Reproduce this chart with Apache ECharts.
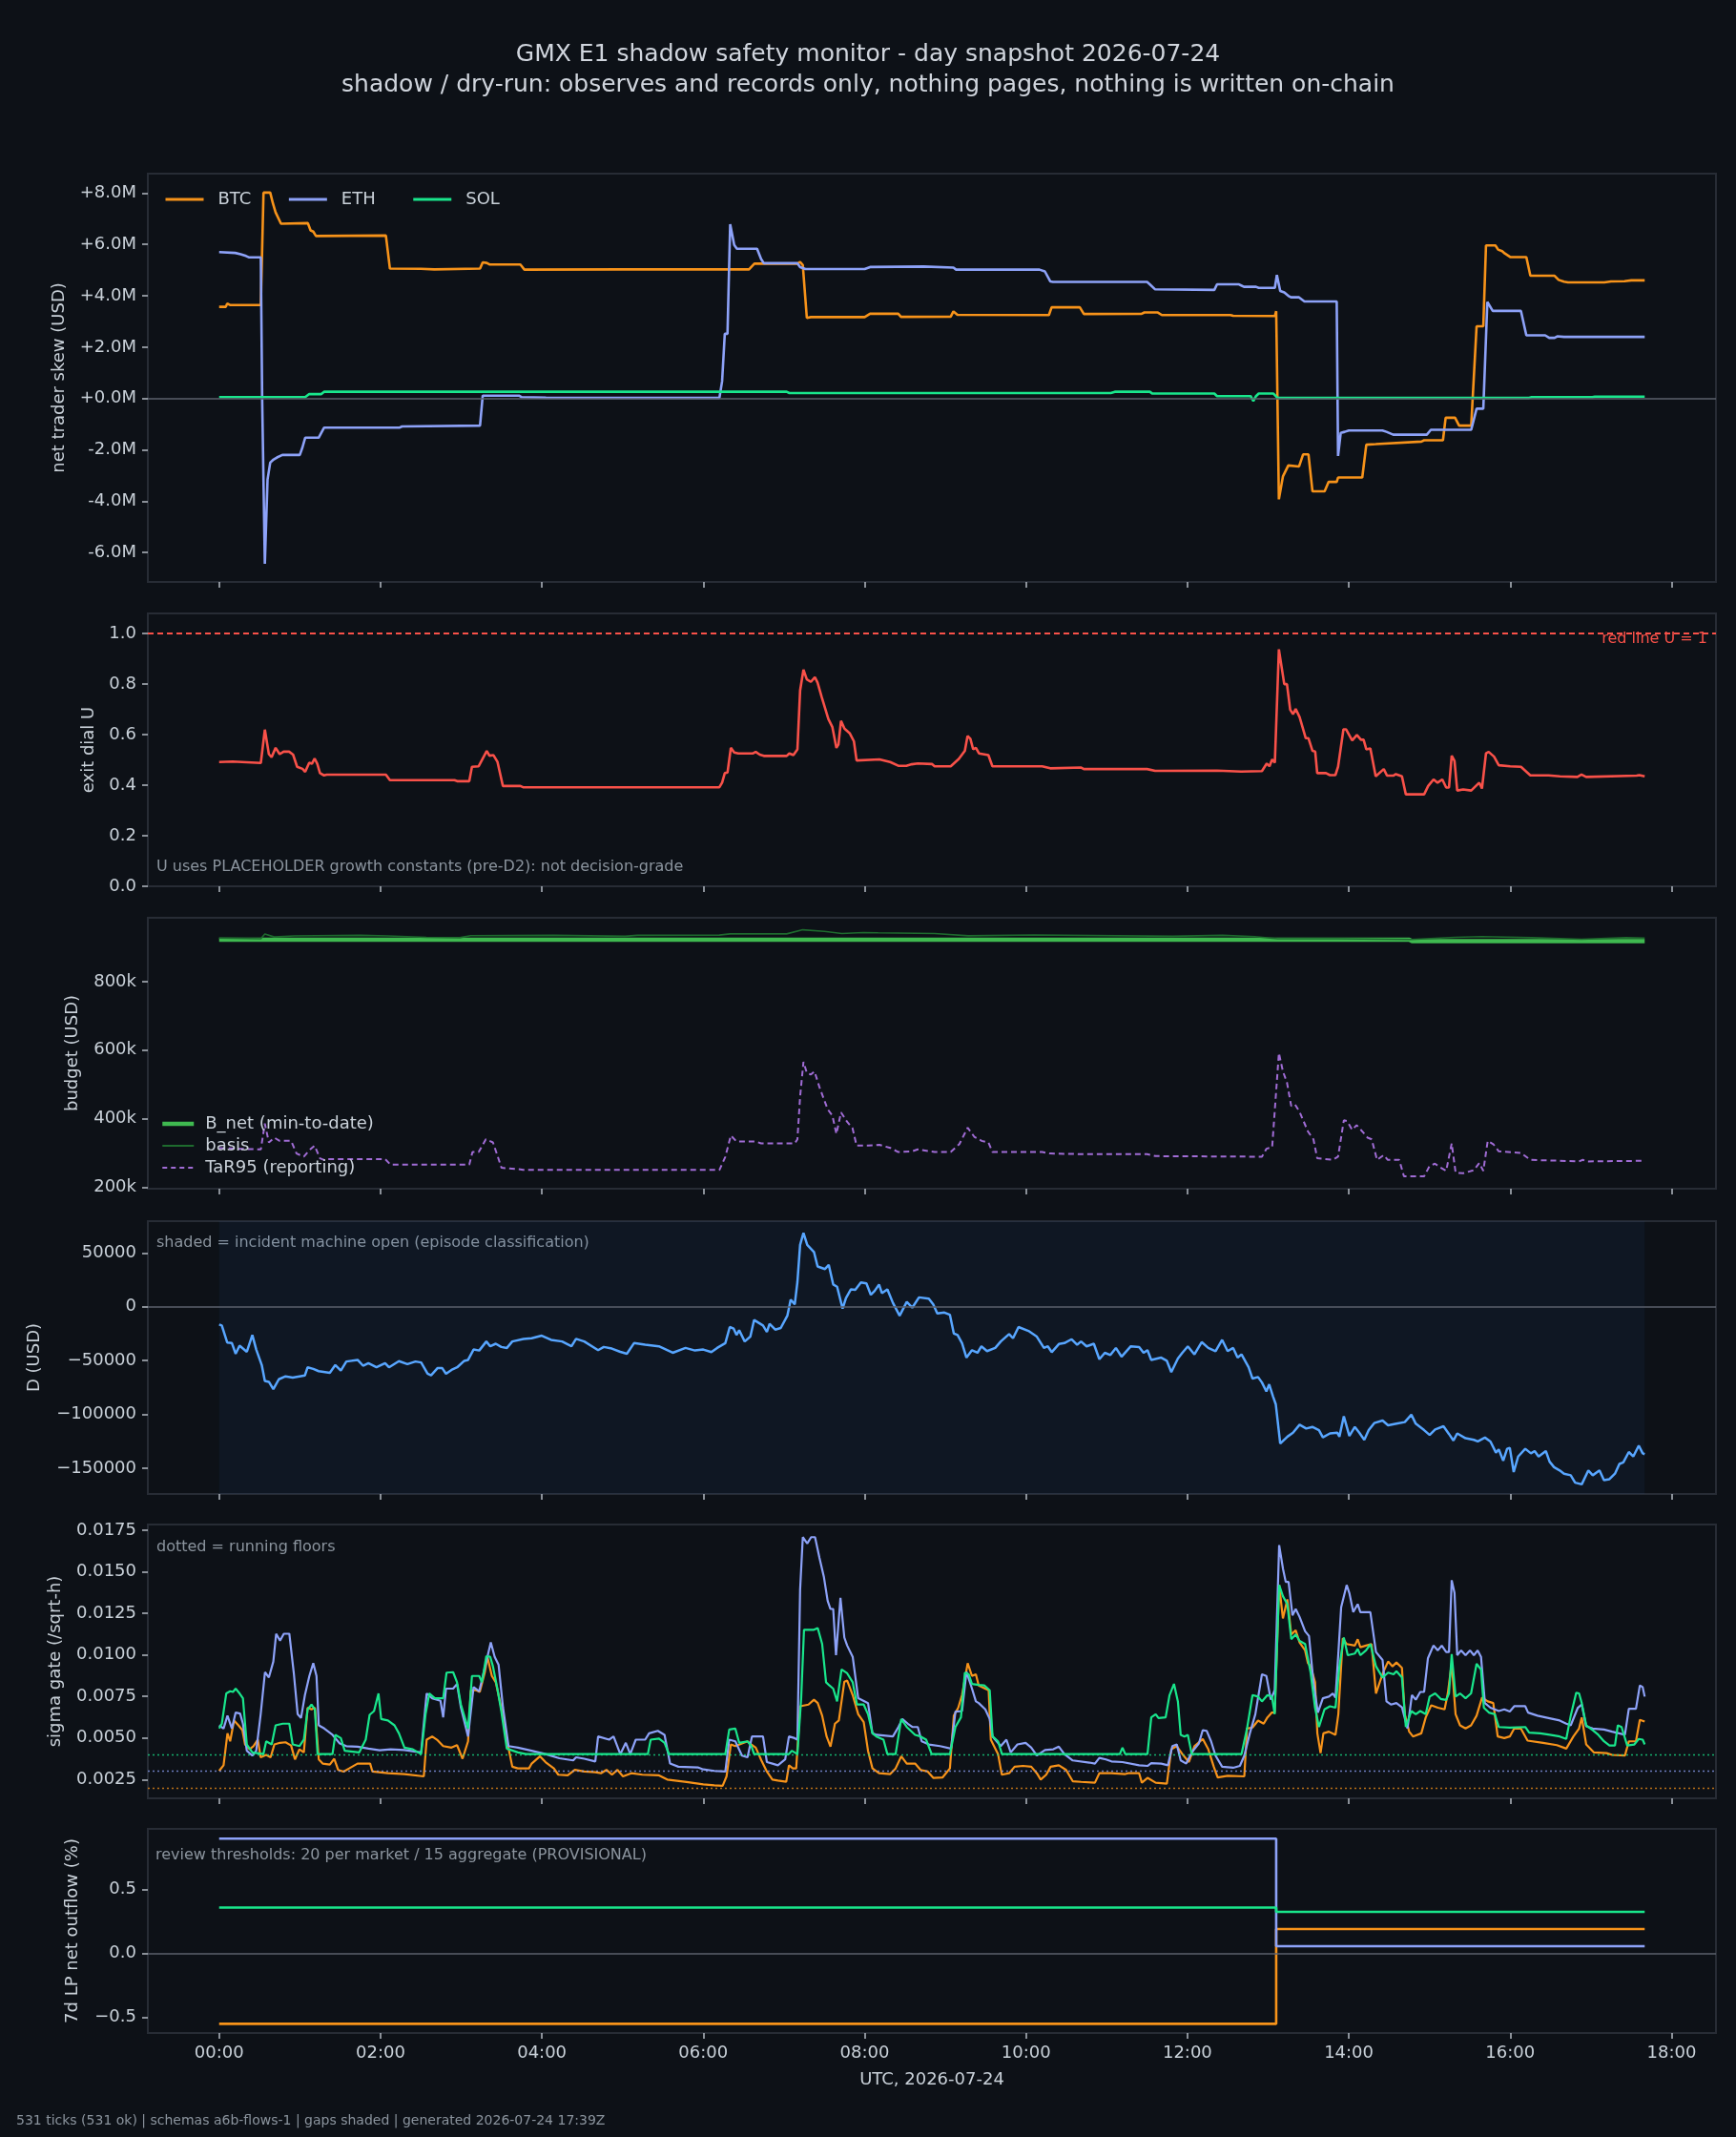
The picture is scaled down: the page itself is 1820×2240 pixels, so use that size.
<!DOCTYPE html>
<html>
<head>
<meta charset="utf-8">
<script src="https://cdn.jsdelivr.net/npm/echarts@6/dist/echarts.min.js"></script>
<style>
  html, body { margin: 0; padding: 0; background: #0d1117; }
  #chart { width: 1820px; height: 2240px; }
</style>
</head>
<body>
<div id="chart"></div>
<script>
// x values are minutes after 00:00 UTC (one tick every 2 minutes, 531 ticks)
var xTicks = [0, 120, 240, 360, 480, 600, 720, 840, 960, 1080]

// panel 1: net trader skew, $M
var skewBtc = [[0,3.57],[5,3.57],[6,3.70],[8,3.64],[31,3.64],[33,8.02],[38,8.02],[40,7.6],[42,7.25],[46,6.81],[66,6.83],[68,6.55],[70,6.50],[72,6.33],[124,6.35],[127,5.06],[150,5.05],[160,5.03],[194,5.06],[196,5.30],[199,5.28],[201,5.22],[224,5.22],[227,5.02],[300,5.03],[394,5.03],[398,5.25],[430,5.25],[432,5.32],[434,5.2],[437,3.14],[440,3.17],[480,3.17],[484,3.30],[505,3.30],[507,3.18],[544,3.19],[546,3.39],[549,3.26],[617,3.25],[619,3.55],[640,3.55],[643,3.29],[686,3.30],[688,3.35],[698,3.35],[701,3.25],[752,3.25],[754,3.22],[785,3.21],[786,3.40],[788,-3.93],[791,-3.04],[795,-2.61],[803,-2.65],[806,-2.18],[810,-2.18],[813,-3.62],[822,-3.62],[825,-3.25],[831,-3.25],[832,-3.08],[850,-3.08],[853,-1.80],[860,-1.78],[894,-1.68],[896,-1.63],[910,-1.63],[912,-0.75],[919,-0.75],[922,-1.06],[931,-1.06],[935,2.81],[940,2.81],[942,5.96],[949,5.96],[951,5.80],[954,5.74],[956,5.65],[960,5.51],[972,5.51],[975,4.78],[993,4.78],[996,4.62],[1000,4.55],[1003,4.52],[1030,4.52],[1035,4.56],[1045,4.57],[1050,4.60],[1060,4.60]]
var skewEth = [[0,5.70],[12,5.67],[16,5.62],[20,5.55],[22,5.50],[31,5.50],[32,0],[34,-6.44],[36,-3.16],[38,-2.5],[40,-2.40],[43,-2.30],[47,-2.20],[60,-2.20],[62,-1.9],[64,-1.53],[74,-1.53],[78,-1.14],[134,-1.14],[136,-1.09],[194,-1.06],[196,0.11],[223,0.11],[225,0.05],[243,0.03],[372,0.02],[374,0.67],[376,2.52],[378,2.52],[380,6.79],[383,5.98],[385,5.83],[400,5.83],[403,5.43],[405,5.27],[430,5.27],[432,5.12],[436,5.04],[480,5.04],[484,5.12],[524,5.14],[546,5.10],[548,5.02],[610,5.02],[614,4.95],[618,4.56],[620,4.54],[690,4.54],[692,4.45],[696,4.25],[740,4.23],[742,4.45],[758,4.45],[760,4.40],[762,4.35],[771,4.35],[773,4.31],[785,4.31],[786.5,4.81],[789,4.19],[792,4.13],[795,4.0],[797,3.94],[803,3.94],[807,3.78],[831,3.78],[832,-2.24],[834,-1.34],[837,-1.30],[840,-1.25],[865,-1.25],[868,-1.30],[873,-1.41],[898,-1.41],[901,-1.22],[931,-1.22],[935,-0.40],[940,-0.40],[943,3.76],[947,3.41],[968,3.41],[972,2.46],[986,2.46],[989,2.36],[993,2.36],[995,2.42],[1000,2.40],[1060,2.40]]
var skewSol = [[0,0.05],[64,0.05],[67,0.17],[76,0.17],[78,0.26],[422,0.26],[424,0.21],[663,0.21],[666,0.26],[692,0.26],[694,0.19],[740,0.19],[742,0.09],[767,0.09],[769,-0.10],[771,0.09],[773,0.19],[784,0.19],[787,0.02],[974,0.02],[976,0.05],[1021,0.05],[1023,0.07],[1060,0.07]]

// panel 2: exit dial U
var dialU = [[0,0.492],[10,0.494],[31,0.488],[34,0.62],[37,0.523],[39,0.511],[42,0.548],[45,0.523],[48,0.533],[52,0.533],[55,0.521],[58,0.473],[62,0.465],[64,0.453],[67,0.489],[69,0.485],[71,0.506],[73,0.485],[75,0.448],[78,0.439],[80,0.442],[124,0.442],[127,0.420],[175,0.420],[177,0.416],[186,0.416],[188,0.473],[193,0.475],[199,0.536],[201,0.517],[204,0.519],[207,0.492],[211,0.397],[224,0.397],[226,0.392],[372,0.392],[374,0.410],[376,0.448],[378,0.450],[380.5,0.548],[383,0.530],[386,0.526],[397,0.526],[399,0.532],[402,0.521],[405,0.516],[422,0.516],[424,0.526],[427,0.519],[430,0.542],[432,0.775],[434.5,0.857],[437,0.819],[440,0.809],[443,0.828],[445,0.806],[448,0.750],[453,0.662],[456,0.630],[459,0.548],[460.5,0.561],[462.4,0.655],[465,0.624],[469,0.605],[472,0.574],[474,0.498],[491,0.502],[499,0.492],[505,0.477],[511,0.477],[515,0.483],[519.5,0.486],[530,0.484],[532,0.475],[544,0.475],[550,0.504],[554.5,0.536],[556.5,0.595],[558.6,0.584],[560.7,0.542],[562.7,0.548],[565,0.526],[572,0.519],[575,0.475],[612,0.475],[618,0.467],[641,0.470],[643,0.464],[690,0.464],[696,0.457],[742,0.458],[760,0.454],[775.4,0.456],[779,0.486],[781,0.475],[783,0.502],[785,0.489],[788,0.938],[790,0.869],[792,0.800],[794,0.800],[796.4,0.699],[798.5,0.681],[800.5,0.702],[803.4,0.670],[808,0.586],[810,0.586],[813,0.536],[815,0.533],[816.5,0.448],[823,0.448],[826,0.440],[830,0.440],[832,0.473],[836,0.621],[838,0.621],[842.5,0.577],[846,0.599],[849,0.580],[851,0.580],[853,0.542],[856,0.546],[860,0.435],[866,0.464],[868.4,0.438],[873,0.438],[875,0.444],[879.5,0.435],[882.4,0.364],[896,0.364],[899,0.397],[903,0.423],[906,0.410],[909.5,0.423],[912.4,0.391],[914.5,0.391],[916.5,0.517],[918.6,0.496],[920.6,0.379],[925,0.383],[931,0.379],[937,0.410],[939,0.387],[942,0.526],[944,0.532],[948,0.513],[951.5,0.479],[960,0.475],[968,0.473],[975,0.439],[988.5,0.439],[997,0.435],[1010,0.433],[1013,0.442],[1016.5,0.433],[1054,0.438],[1056,0.440],[1060,0.435]]

// panel 3: budget, $k
var bNet = [[0,922],[885,922],[887,918],[1060,918]]
var basis = [[0,927],[31,925],[34,939],[41,930],[56,933],[105,935],[125,933],[154,929],[179,928],[187,934],[249,935],[302,932],[311,935],[372,935.5],[380,939],[422,939],[434,951],[450,946.5],[463,940],[479,943],[490,942],[532,940],[557,933.6],[606,936],[709,932],[746,935],[770,931],[787,925],[832,925],[886,922.6],[919,929],[939,931],[976,928],[1013,923.5],[1046,928],[1060,927]]
var tar95 = [[0,314],[31,310.6],[34,386],[37,331],[41,345],[45,335.5],[53.5,335.5],[57.6,298.6],[63,289.4],[67,308],[71,321.6],[75,284.8],[78,280],[80,282],[123.5,282],[127.5,266],[186,266],[188.4,303],[193,303],[198.3,340],[203.6,331],[210,257],[224,252.5],[226,250.7],[372,250.7],[376.4,289],[380.5,351],[384.7,333.6],[399,333.6],[403,328],[428,328],[430,340],[432,464.5],[434.5,566],[437,533.6],[440,529],[442.7,538],[446.4,492],[452.5,427.6],[456,409],[459,355.7],[462.4,418.4],[467,390.8],[471,372],[474,321.6],[482.5,321.6],[491,324],[499,315],[505,303],[515.4,305],[519.5,310.6],[532,303],[544,303],[550.4,326],[556.6,374],[561.5,347.5],[567,335.5],[572,331],[575,303],[612,303],[618,298.6],[643,296.7],[690,296.7],[696.4,291],[770.5,289.4],[775.4,289.4],[778.7,312.4],[783,317],[788,591.7],[791,538],[794,505.8],[797.2,436.8],[800,441.5],[803.4,420],[809.6,363],[813.7,340],[816.5,284.8],[828,280],[832,289.4],[836.3,395.4],[838.8,393],[842.5,367.7],[845.8,381.5],[850,363],[854,344.7],[857,340],[861,280],[866,294],[869,280],[877.5,280],[881,232.2],[896,232.2],[900,261.7],[904,269],[908,258],[912.4,248],[916.5,328],[919.4,243],[925,241],[933,250],[937,271],[940,248],[943.3,335.5],[947.4,326],[951.5,305],[968,300.4],[975,280],[997,277.4],[1011,275.5],[1014,280],[1017,275.5],[1060,277.4]]

// panel 4: D, $k
var dUsd = [[0,-16.5],[2,-17.4],[6,-33.2],[9.5,-33.8],[12.3,-43.7],[15.2,-36.2],[20.6,-41.9],[24.7,-26.3],[27.6,-39.8],[31.7,-54.2],[34,-68.9],[37,-69.8],[40.3,-76.6],[44.4,-67.4],[49.4,-64.7],[54.7,-65.9],[63.8,-63.8],[65.8,-56.3],[70,-57.8],[74,-59.9],[82.3,-61.4],[86.4,-54.2],[90.5,-59.3],[94.6,-50.9],[103,-49.4],[107,-54.8],[111,-52.4],[117,-56.3],[123.4,-52.4],[126.3,-56.3],[133.7,-50.6],[140,-53.3],[146,-50.9],[150.2,-51.8],[155,-62.3],[157.6,-63.8],[162.5,-56.9],[165.8,-56.9],[168.7,-62.3],[172.8,-58.7],[177,-56.3],[182.3,-50.3],[185.1,-49.4],[189.2,-39.8],[193.4,-40.7],[198.7,-32.3],[201.6,-36.8],[205.7,-34.4],[209.8,-37.4],[214,-38.3],[218,-32.3],[226.3,-29.9],[232.4,-29.3],[239.9,-26.9],[246.8,-30.8],[255,-32.3],[262,-36.8],[265.4,-29.9],[271.5,-32.3],[281.8,-40.4],[286,-37.4],[292,-38.9],[298.3,-41.9],[303.2,-43.7],[308.5,-33.8],[316.8,-35.3],[327,-36.8],[331.2,-39.2],[337.3,-42.8],[346.8,-38.3],[353.8,-40.7],[360,-39.8],[366,-42.2],[370.3,-38.3],[376.4,-33.8],[379.7,-18.9],[382.6,-20.4],[384.7,-26.3],[386.7,-21.9],[390.8,-32.3],[395,-27.8],[397.8,-12.3],[404.4,-17.4],[407.3,-23.4],[409.3,-15.9],[413.5,-21.3],[417.6,-19.8],[422.5,-8.4],[425,6.6],[428,2.1],[430,23],[432,57.5],[434.5,68.6],[437.3,57.5],[442.3,50.9],[445,37.4],[450.5,35],[453.3,38.9],[456.6,20.7],[459.5,18.6],[463.6,-1.8],[466.1,8.1],[469.8,16.2],[473,15.6],[477.2,22.5],[481.3,21.6],[484.6,11.1],[487.4,14.7],[490.7,20.7],[492.8,12.6],[496.9,16.2],[501,3.6],[506,-8.4],[511.3,4.5],[515.4,-0.9],[520.4,8.7],[527.7,7.5],[531,2.1],[534,-6.3],[539.3,-5.4],[543.4,-7.5],[546.3,-24.9],[549.1,-26.3],[552.4,-33.8],[555.7,-47.3],[559.8,-40.4],[563.9,-42.8],[566.8,-36.8],[571,-41.3],[577.1,-38.3],[581.2,-32.3],[587.4,-25.4],[590.3,-29.3],[594.4,-18.9],[601.8,-22.5],[608,-27.8],[613.3,-38.3],[616.2,-36.8],[619.1,-42.2],[624.4,-34.7],[628.5,-33.8],[633.9,-30.2],[638,-35.3],[640.9,-32.3],[645,-36.8],[650.4,-34.4],[654.5,-48.8],[658.6,-42.8],[662.7,-44.9],[666.8,-38.3],[671,-46.4],[677.9,-36.8],[684.1,-37.4],[687.4,-42.8],[690.3,-40.4],[693.1,-49.4],[700.5,-47.3],[704.7,-50.3],[708,-60.8],[712.9,-48.2],[716.2,-42.8],[720.3,-36.8],[725.2,-44.3],[730.6,-32.9],[735.5,-38.3],[740.9,-41.3],[745.8,-30.8],[749.9,-41.3],[754,-38.3],[757.3,-47.3],[760.2,-44.3],[765.5,-56.3],[768.4,-66.8],[772.5,-65.3],[775.4,-70.4],[778.7,-78.7],[780.8,-72.1],[783.6,-83.2],[785.7,-90.7],[789,-127.2],[794.4,-120.7],[798.5,-117],[803.4,-109.6],[808.3,-113.2],[812.9,-111.7],[817.8,-114.7],[820.7,-121.3],[826,-117.7],[831.4,-117],[833,-120.7],[836.3,-101.8],[840.4,-120.1],[844.5,-111.7],[847.8,-117],[851.5,-123.7],[854.8,-114.7],[858.9,-108.1],[865.1,-105.7],[869.2,-110.2],[875.4,-108.7],[881.6,-107.2],[886.5,-100.3],[889.8,-108.7],[896,-114.7],[900.1,-119.2],[904.2,-114.1],[910.4,-111.1],[914.5,-118.3],[917.8,-124.3],[920.6,-117.7],[926.8,-122.2],[933,-123.7],[935.9,-125.2],[941.2,-121.6],[945.3,-125.2],[949.4,-135.6],[951.5,-132.6],[954.8,-143.1],[957.7,-132],[959.7,-131.1],[962.6,-153.6],[965.9,-139.2],[971.2,-132],[975.4,-136.2],[978.2,-134.1],[981.1,-139.2],[986.5,-134.1],[989.3,-144],[992.6,-149.1],[996.8,-152.1],[1000,-155.1],[1005,-156.6],[1008.3,-163.5],[1013.2,-165],[1018.1,-152.1],[1021.4,-156.6],[1026.4,-152.1],[1029.7,-161.1],[1033.8,-160.2],[1037.9,-155.1],[1041.2,-146.1],[1044.1,-144.6],[1048.2,-135],[1051.5,-139.2],[1055.6,-129],[1058.5,-136.2],[1060,-137]]

// panel 5: sigma gate, in units of 1e-4 /sqrt-h
var sigBtc = [[0,30.2],[3.3,33.6],[6.2,52.8],[8.2,48],[11.1,60.5],[14.4,57.6],[17.3,54.7],[19.3,46.1],[22.6,43.2],[25.5,45.1],[28.8,49],[30.9,38.4],[35,39.8],[38.3,38.4],[41.1,46.1],[45.3,47.1],[49.4,47.4],[53.5,45.5],[56.4,37.1],[59.7,43.2],[63,41.3],[65.8,68.2],[68.7,67.2],[71.2,68.2],[74.1,37.1],[77,34.6],[82.3,34],[85.6,37.5],[88.5,30.8],[92.6,29.8],[96.7,31.7],[102.9,34.6],[112.3,34.6],[114,29.8],[125.5,28.8],[137.8,28.3],[152.2,26.9],[154.3,49],[158.4,50.9],[162.5,48.6],[166.6,45.1],[172.8,44.2],[176.9,45.7],[181,37.5],[185.1,48],[187.2,78.7],[191.3,78.7],[193.8,77.7],[197.5,89.3],[199.5,98.8],[202.8,87.3],[205.7,83.5],[209.8,68.2],[213.9,49],[218,32.7],[222.2,31.7],[230.4,31.7],[232.4,34.6],[238.6,39],[242.7,35.5],[248.9,31.7],[252.2,27.9],[259.2,27.5],[264.5,30.8],[271.5,29.8],[279.7,29.4],[283.9,28.8],[288,30.8],[292.1,27.9],[296.2,30.8],[300.3,26.9],[306.5,28.8],[314.7,27.9],[327.1,27.5],[333.2,25],[347.6,23.5],[360,22.1],[368.2,21.5],[374.4,21.2],[377.3,26.9],[380.5,46.1],[383.8,45.1],[388.8,46.7],[392.9,48],[395.8,46.1],[399,44.2],[403.2,36.5],[407.3,29.8],[411.4,25],[415.5,24.4],[421.7,23.7],[423.7,33.6],[426.6,31.7],[429.1,31.7],[432,69.1],[438.2,70.1],[442.3,73],[445.1,71],[448.4,63.4],[451.7,50.9],[454.6,44.8],[457.9,58.6],[460.8,60.5],[464.9,83.9],[467,84.5],[471.1,75.8],[475.2,64.3],[479.3,59.5],[482.5,42.3],[485.8,31.7],[490.7,28.8],[499,28.3],[503,31.7],[507.2,39],[511.3,34.6],[517.5,34.6],[521.6,30.8],[526.9,29.8],[531,26],[538,26.3],[543.4,31.7],[546.3,63.4],[549.6,68.2],[552.4,75.8],[556.6,95],[559.8,87.3],[562.7,88.3],[564.8,81.6],[572.2,78.7],[573.8,49],[579.2,40.3],[582,27.9],[587.4,28.8],[591.5,32.7],[597.7,33.2],[603.9,32.7],[608,28.8],[610.9,25],[615,27.9],[618.3,32.7],[624.4,33.6],[629.8,30.8],[634.7,24],[640.9,23.6],[651.2,23.1],[654.5,28.8],[663.5,28.8],[673.8,28.3],[675.9,28.8],[684.1,28.8],[686.1,23.1],[690.3,26],[696.4,23.1],[704.7,22.5],[708,43.2],[712.1,45.1],[716.2,40.3],[721.1,35.5],[725.2,45.1],[731.4,49.4],[735.5,43.2],[739.6,32.7],[742.5,26.3],[749.9,27.3],[762.3,26.9],[764.3,55.7],[768.4,56.3],[772.5,60.5],[776.7,58.6],[779.5,62.4],[782.8,65.3],[784.9,65.3],[788.2,142],[791,121.9],[794.3,133.4],[797.2,112.3],[800.5,114.8],[803.4,107.5],[807.5,102.7],[809.6,95],[811.6,93.1],[814.9,83.5],[816.6,52.8],[819,40.9],[821.1,52.8],[825.2,53.8],[830.1,51.9],[832.2,64.3],[835.5,110],[838.4,106.5],[844.5,105.6],[846.6,109.4],[848.6,104.6],[852.8,105.6],[856.9,106.5],[860.2,76.8],[863,83.5],[865.9,90.2],[869.2,96],[872.5,93.1],[875.4,95.4],[879.5,92.2],[881.6,64.3],[884.9,53.8],[887.7,50.9],[893.9,52.8],[897.2,62.4],[901.3,69.7],[906.2,68.2],[911.2,67.2],[913.6,76.8],[916.5,95],[919.4,64.3],[922.7,57.6],[926.8,55.7],[930.9,57.6],[935,63.4],[939.1,74.3],[943.3,72],[947.4,71],[950.7,50.9],[955.6,49.9],[959.7,50.9],[963,55.7],[967.9,55.7],[972.9,48.4],[984.4,47.1],[994.7,45.7],[1001.7,43.6],[1007,50.9],[1011.2,55.7],[1013.2,62.4],[1016.5,46.1],[1022.3,41.3],[1031.7,40.9],[1035.8,39.8],[1045.3,39.4],[1048.2,48],[1053.5,48],[1056.4,60.9],[1060,59.9]]
var sigEth = [[0,57.6],[3.3,55.7],[6.2,63.4],[9.5,55.7],[12.3,65.3],[15.6,64.7],[17.7,58.6],[20.6,42.3],[24.7,39.4],[27.6,42.3],[30.9,64.3],[34.1,89.6],[37,86.4],[40.3,96],[42.4,112.7],[45.3,108.5],[48.1,112.7],[52.2,112.7],[55.5,89.3],[58.4,64.3],[60.9,62],[63.8,75.8],[67.1,87.3],[70,95],[72.4,87.3],[74.1,57.6],[78.2,55.7],[84.3,51.9],[89.7,46.7],[94.6,45.1],[102.9,44.8],[111.1,43.6],[119.3,42.6],[127.5,43.2],[137.8,42.8],[150.2,41.3],[154.3,76.8],[158.4,73.9],[164.6,72.4],[166.6,62.4],[168.7,79.7],[174,79.7],[176.9,82.5],[179.8,68.2],[185.1,50.9],[189.2,80.6],[193.4,78.1],[198.7,96],[202,107.5],[204.9,98.8],[207.8,94],[211.1,68.2],[215.2,45.1],[222.2,44.2],[232.4,42.3],[242.7,40.3],[253,37.8],[263.3,36.5],[265.4,38.4],[271.5,37.5],[279.7,35.9],[281.8,50.9],[290,49],[293.3,50.9],[298.3,40.3],[302.4,47.1],[305.7,40.3],[309.8,49],[316.8,49],[319.7,52.8],[326.2,54.3],[331.2,51.9],[335.3,34.6],[341.5,32.7],[355.9,32.3],[360,31.1],[368.2,30.2],[376.4,29.8],[379.3,49],[383.8,48],[388.8,39.4],[392.9,38.4],[396.2,50.9],[404.4,50.9],[407.3,35.5],[411.4,34.6],[415.5,33.6],[420.9,37.1],[423.7,50.9],[427.9,49.9],[430,49],[432,139.1],[434,170.8],[437.3,167],[440.2,170.8],[443.1,170.8],[446.4,158.3],[449.7,146.8],[452.5,132.4],[454.6,127.6],[456.6,127.6],[458.7,99.8],[462,134.3],[464.9,110.4],[467,105.6],[471.1,98.8],[475.2,73.9],[482.5,71],[485.8,52.8],[488.7,51.9],[501,50.9],[505.1,56.6],[508,61.4],[512.1,58.6],[515.4,56.6],[519.5,56.6],[522.4,48],[527.8,46.1],[536,45.1],[544.2,43.6],[547.5,65.9],[552.4,66.2],[555.7,89.8],[559.8,79.7],[562.7,72],[564.8,71],[569.7,67.2],[573,61.4],[575.1,50.9],[581.2,45.1],[585.4,49],[588.6,41.3],[593.6,46.1],[599.7,47.1],[603.9,44.2],[608,39.4],[614.1,42.8],[620.3,43.2],[624.4,44.8],[628.5,40.3],[634.7,36.5],[647.1,35.2],[651.2,34.6],[654.5,38],[659.4,37.1],[663.5,35.9],[671.7,35.5],[684.1,33.6],[690.3,33.2],[693.1,34.9],[700.5,34.6],[705.5,33.6],[708.8,45.1],[712.1,46.1],[715,36.5],[719.1,34.6],[723.2,41.3],[728.5,46.7],[731.4,54.7],[734.3,54.3],[737.6,48],[740.9,39.4],[745.8,32.7],[754,32.1],[759,33.2],[762.3,39.4],[766.4,52.8],[770.5,64.3],[775.4,88.3],[778.7,87.3],[782,73],[784.9,78.7],[788.2,166],[791.1,151.6],[793.1,143.9],[795.2,143.9],[798.1,123.8],[800.5,127.6],[803.4,122.8],[807.5,114.2],[810.4,111.3],[813.7,83.5],[817,65.3],[820.7,73.9],[825.2,74.9],[828.1,76.8],[830.1,74.3],[832.2,100.8],[834.3,128.6],[838.4,142],[840.4,137.2],[843.3,125.7],[846.6,130.5],[848.6,125.7],[856,125.7],[860.2,101.7],[865.1,96.9],[868,72],[871.3,70.1],[875.4,71],[879.5,68.5],[883.6,55.7],[886.9,75.8],[889.8,73],[893.1,77.7],[896,77.7],[898.8,97.9],[902.9,105.6],[906.2,102.7],[909.1,105.6],[912.4,101.7],[914.5,101.7],[916.5,144.9],[918.6,137.2],[920.6,99.8],[923.5,102.7],[926.8,99.8],[930.1,102.7],[933,99.8],[935.8,102.7],[938.3,98.8],[941.2,71],[945.3,68.2],[951.5,66.2],[955.6,67.2],[959.7,65.9],[963,69.1],[971.2,69.1],[973.3,65.3],[980.3,63.4],[988.5,62],[996.8,60.5],[1001.7,58.6],[1005,57.6],[1010.3,68.2],[1013.2,70.1],[1016.5,57],[1021.4,55.7],[1029.7,55.1],[1035.8,53.8],[1045.3,51.9],[1048.2,67.6],[1053.5,67.6],[1056.4,81.6],[1058.5,80.6],[1060,74.9]]
var sigSol = [[0,55.7],[2,58.6],[5.3,76.8],[8.2,78.1],[10.3,77.7],[12.3,79.7],[15.2,76.8],[17.7,73.9],[20.6,46.1],[24.7,41.3],[32.9,40.3],[35,48],[39.1,46.1],[42,57.6],[47.3,58.6],[52.2,58.6],[54.7,46.1],[59.7,45.1],[63,49],[65.8,67.2],[68.7,70.1],[71.2,67.2],[73.2,40.3],[84.3,40.3],[86.4,51.9],[90.5,49.9],[93.4,42.3],[104.1,41.3],[109,49],[111.9,63.9],[115.2,66.2],[118.5,76.8],[120.5,61.4],[125.5,60.5],[130.4,57.6],[133.7,52.8],[137.8,44.2],[144,43.2],[150.2,40.3],[153.5,64.3],[156.3,76.8],[160.4,73.9],[166.6,73.9],[169.1,89.3],[174,89.6],[176.9,83.5],[179.8,70.1],[185.1,55.7],[188,87.3],[193.4,87.3],[195.4,83.5],[198.7,99.2],[201.6,98.8],[203.6,93.1],[206.9,79.7],[209.8,66.2],[213.9,43.6],[222.2,41.3],[228.3,40.3],[318.8,40.3],[320.9,49],[327.1,49.6],[331.2,47.1],[334.5,40.3],[376.4,40.3],[379.3,55.1],[383.8,55.7],[386.7,47.1],[392.9,48],[395.8,45.1],[397.8,40.3],[423.7,40.3],[425.8,42.3],[430,40.3],[432.8,73.9],[434.9,115.1],[442.3,115.1],[445.1,116.1],[448.4,106.5],[451.3,83.5],[453.8,81.6],[456.6,79.7],[459.5,72],[462.8,91.2],[467,88.9],[471.1,83.5],[474.3,70.1],[479.3,70.1],[482.5,64.3],[485.8,52.8],[488.7,50.9],[494,49],[496.9,40.3],[503,40.3],[507.2,61.4],[511.3,56.6],[517.5,51.9],[521.6,50.9],[525.7,49],[529.8,40.3],[543.4,40.3],[547.5,56.6],[551.6,62.4],[554.5,89.3],[557.4,88.3],[559.8,82.5],[564.8,81.9],[568.9,81.6],[573,78.7],[575.1,50.9],[579.2,48],[582.1,40.3],[669.7,40.3],[671.7,44.2],[673.8,40.3],[690.3,40.3],[693.1,62.4],[696.4,64.3],[698.5,62],[703.8,62.4],[706.7,75.8],[710,82.5],[712.9,72],[715,51.9],[717.8,50.9],[720.3,51.9],[723.2,40.3],[760.2,40.3],[764.3,55.7],[768.4,75.8],[772.5,74.9],[775.4,72],[779.5,75.8],[782.8,74.9],[784.9,64.3],[788.2,142],[791,135.3],[794.3,130.5],[797.2,109.4],[800.5,112.3],[803.4,108.4],[807.5,106.5],[811.6,89.3],[814.9,68.2],[817.8,56.6],[821.9,67.2],[826,69.1],[830.1,68.2],[833,93.1],[836.3,110.4],[839.2,99.8],[844.5,100.8],[846.6,103.6],[848.6,99.8],[852.8,102.7],[856.1,106.5],[860.2,93.1],[865.1,86.4],[869.2,89.3],[873.3,88.3],[875.4,90.2],[879.5,86.4],[882.4,56.6],[886.5,66.2],[889.8,64.3],[893.1,66.2],[897.2,64.3],[900.1,74.9],[904.2,76.8],[908.3,73.5],[912.4,72.9],[914.5,76.8],[916.5,100.4],[919.4,74.9],[922.7,76.8],[926.8,73.9],[930.9,76.8],[935,94.6],[938.3,91.2],[940.4,68.2],[944.1,65.3],[948.6,64.3],[951.5,56.6],[959.7,56.2],[971.2,56.6],[974.1,53.2],[982.4,52.8],[989.4,51.9],[996.8,50.9],[1001.7,49.4],[1005,63.4],[1009.1,77.2],[1011.2,76.8],[1013.2,71],[1016.5,57.6],[1021.4,54.7],[1025.5,51.9],[1029.7,48],[1033.8,45.5],[1037.9,45.5],[1040,57.6],[1042.8,56.6],[1047,45.5],[1052.3,46.1],[1055.6,49.4],[1058.5,49],[1060,46.1]]
var sigFloors = { BTC: 20, ETH: 30, SOL: 40 }

// panel 6: 7d LP net outflow, %
var lpBtc = [[0,-0.552],[786,0.192],[1060,0.192]]
var lpEth = [[0,0.90],[786,0.057],[1060,0.057]]
var lpSol = [[0,0.36],[786,0.326],[1060,0.326]]

var C = {
  bg: '#0d1117', text: '#c9d1d9', dim: '#8b949e', frame: '#272c35', zero: '#5b616c',
  btc: '#f7931a', eth: '#8da2f8', sol: '#19e68c', red: '#f85149',
  bnet: '#3fb950', basis: '#1e6b2e', tar: '#a06cd5', d: '#58a6ff'
}
var FONT = 'DejaVu Sans'

var panels = [
  { top: 182, height: 428, min: -7.15, max: 8.76, ticks: [-6,-4,-2,0,2,4,6,8], name: 'net trader skew (USD)', gap: 84,
    fmt: function (v) { return (v >= 0 ? '+' : '-') + Math.abs(v).toFixed(1) + 'M' } },
  { top: 643, height: 286, min: 0, max: 1.08, ticks: [0,0.2,0.4,0.6,0.8,1.0], name: 'exit dial U', gap: 53,
    fmt: function (v) { return v.toFixed(1) } },
  { top: 962, height: 284, min: 196, max: 986, ticks: [200,400,600,800], name: 'budget (USD)', gap: 70,
    fmt: function (v) { return v + 'k' } },
  { top: 1280, height: 286, min: -174, max: 79.5, ticks: [-150,-100,-50,0,50], name: 'D (USD)', gap: 110,
    fmt: function (v) { return (v < 0 ? '\u2212' : '') + Math.abs(v * 1000) } },
  { top: 1598, height: 287, min: 13.7, max: 178.4, ticks: [25,50,75,100,125,150,175], name: 'sigma gate (/sqrt-h)', gap: 88,
    fmt: function (v) { return (v / 1e4).toFixed(4) } },
  { top: 1917, height: 214, min: -0.624, max: 0.977, ticks: [-0.5,0,0.5], name: '7d LP net outflow (%)', gap: 70,
    fmt: function (v) { return (v < 0 ? '\u2212' : '') + Math.abs(v).toFixed(1) } }
]

var grids = [], xAxes = [], yAxes = []
panels.forEach(function (p, i) {
  grids.push({ left: 155, width: 1644, top: p.top, height: p.height, show: true,
    borderColor: C.frame, borderWidth: 2, backgroundColor: 'transparent' })
  xAxes.push({
    type: 'value', gridIndex: i, min: -53, max: 1113, position: 'bottom',
    axisLine: { show: false, onZero: false }, splitLine: { show: false },
    axisTick: { show: true, length: 6, customValues: xTicks, lineStyle: { color: '#b4bac4', width: 1.5 } },
    axisLabel: { show: i === 5, customValues: xTicks, margin: 12, color: C.text, fontSize: 18, fontFamily: FONT,
      formatter: function (v) { var h = Math.round(v / 60); return (h < 10 ? '0' : '') + h + ':00' } },
    name: i === 5 ? 'UTC, 2026-07-24' : '', nameLocation: 'middle', nameGap: 40,
    nameTextStyle: { color: C.text, fontSize: 18, fontFamily: FONT }
  })
  yAxes.push({
    type: 'value', gridIndex: i, min: p.min, max: p.max, position: 'left',
    axisLine: { show: false, onZero: false }, splitLine: { show: false },
    axisTick: { show: true, length: 6, customValues: p.ticks, lineStyle: { color: '#b4bac4', width: 1.5 } },
    axisLabel: { customValues: p.ticks, formatter: p.fmt, margin: 12, color: C.text, fontSize: 18, fontFamily: FONT },
    name: p.name, nameLocation: 'middle', nameGap: p.gap,
    nameTextStyle: { color: C.text, fontSize: 18, fontFamily: FONT }
  })
})

function line (name, data, idx, color, width, extra) {
  var s = {
    type: 'line', name: name, data: data, xAxisIndex: idx, yAxisIndex: idx,
    symbol: 'none', color: color, lineStyle: { color: color, width: width },
    silent: true, animation: false
  }
  for (var k in extra) s[k] = extra[k]
  return s
}

function hline (value, color, type, width, opacity) {
  return { yAxis: value, lineStyle: { color: color, type: type, width: width, opacity: opacity || 1 } }
}

function marks (items) {
  return { silent: true, symbol: ['none', 'none'], label: { show: false }, animation: false, data: items }
}

var series = [
  line('BTC', skewBtc, 0, C.btc, 2.6, { markLine: marks([hline(0, C.zero, 'solid', 1.5)]) }),
  line('ETH', skewEth, 0, C.eth, 2.6),
  line('SOL', skewSol, 0, C.sol, 2.6),

  line('U', dialU, 1, C.red, 2.6, { markLine: marks([hline(1, C.red, [6, 4], 2)]) }),

  line('B_net (min-to-date)', bNet, 2, C.bnet, 4.5),
  line('basis', basis, 2, C.basis, 1.6),
  line('TaR95 (reporting)', tar95, 2, C.tar, 2, { lineStyle: { color: C.tar, width: 2, type: [6, 4] } }),

  line('D', dUsd, 3, C.d, 2.5, {
    markLine: marks([hline(0, C.zero, 'solid', 1.5)]),
    markArea: { silent: true, itemStyle: { color: 'rgba(40,120,200,0.07)' }, data: [[{ xAxis: 0 }, { xAxis: 1060 }]] }
  }),

  line('BTC', sigBtc, 4, C.btc, 2.2, { markLine: marks([
    hline(sigFloors.SOL, C.sol, [2, 3], 1.3, 0.75),
    hline(sigFloors.ETH, C.eth, [2, 3], 1.3, 0.75),
    hline(sigFloors.BTC, C.btc, [2, 3], 1.3, 0.75)
  ]) }),
  line('ETH', sigEth, 4, C.eth, 2.2),
  line('SOL', sigSol, 4, C.sol, 2.2),

  line('BTC', lpBtc, 5, C.btc, 2.6, { step: 'end', markLine: marks([hline(0, C.zero, 'solid', 1.5)]) }),
  line('ETH', lpEth, 5, C.eth, 2.6, { step: 'end' }),
  line('SOL', lpSol, 5, C.sol, 2.6, { step: 'end' })
]

function txt (x, y, s, size, color, align) {
  return { type: 'text', x: x, y: y, silent: true,
    style: { text: s, fill: color, fontSize: size, fontFamily: FONT, align: align || 'left', verticalAlign: 'middle' } }
}

function legendItem (name, color, width, type) {
  return { name: name, itemStyle: { opacity: 0 }, lineStyle: { color: color, width: width, type: type || 'solid' } }
}

var option = {
  backgroundColor: C.bg,
  animation: false,
  grid: grids,
  xAxis: xAxes,
  yAxis: yAxes,
  legend: [
    { data: [legendItem('BTC', C.btc, 3), legendItem('ETH', C.eth, 3), legendItem('SOL', C.sol, 3)],
      left: 172, top: 200, padding: 0, itemWidth: 40, itemHeight: 14, itemGap: 38,
      selectedMode: false, itemStyle: { opacity: 0 },
      textStyle: { color: C.text, fontSize: 18, fontFamily: FONT, padding: [0, 0, 0, 10] } },
    { data: [legendItem('B_net (min-to-date)', C.bnet, 4.5), legendItem('basis', C.basis, 2),
        legendItem('TaR95 (reporting)', C.tar, 2.2, [5, 4])],
      orient: 'vertical', left: 168, top: 1169, padding: 0,
      itemWidth: 33, itemHeight: 14, itemGap: 5, selectedMode: false, itemStyle: { opacity: 0 },
      textStyle: { color: C.text, fontSize: 18, fontFamily: FONT, padding: [0, 0, 0, 7] } }
  ],
  graphic: [
    txt(910, 57, 'GMX E1 shadow safety monitor - day snapshot 2026-07-24', 25, '#d0d5dd', 'center'),
    txt(910, 89, 'shadow / dry-run: observes and records only, nothing pages, nothing is written on-chain', 25, '#d0d5dd', 'center'),
    txt(1790, 670, 'red line U = 1', 16, C.red, 'right'),
    txt(164, 909, 'U uses PLACEHOLDER growth constants (pre-D2): not decision-grade', 16, C.dim),
    txt(164, 1303, 'shaded = incident machine open (episode classification)', 16, C.dim),
    txt(164, 1622, 'dotted = running floors', 16, C.dim),
    txt(163, 1945, 'review thresholds: 20 per market / 15 aggregate (PROVISIONAL)', 16, C.dim),
    txt(17, 2223, '531 ticks (531 ok) | schemas a6b-flows-1 | gaps shaded | generated 2026-07-24 17:39Z', 14, C.dim)
  ],
  series: series
}

var chart = echarts.init(document.getElementById('chart'), null, { renderer: 'canvas' })
chart.setOption(option)
</script>
</body>
</html>
